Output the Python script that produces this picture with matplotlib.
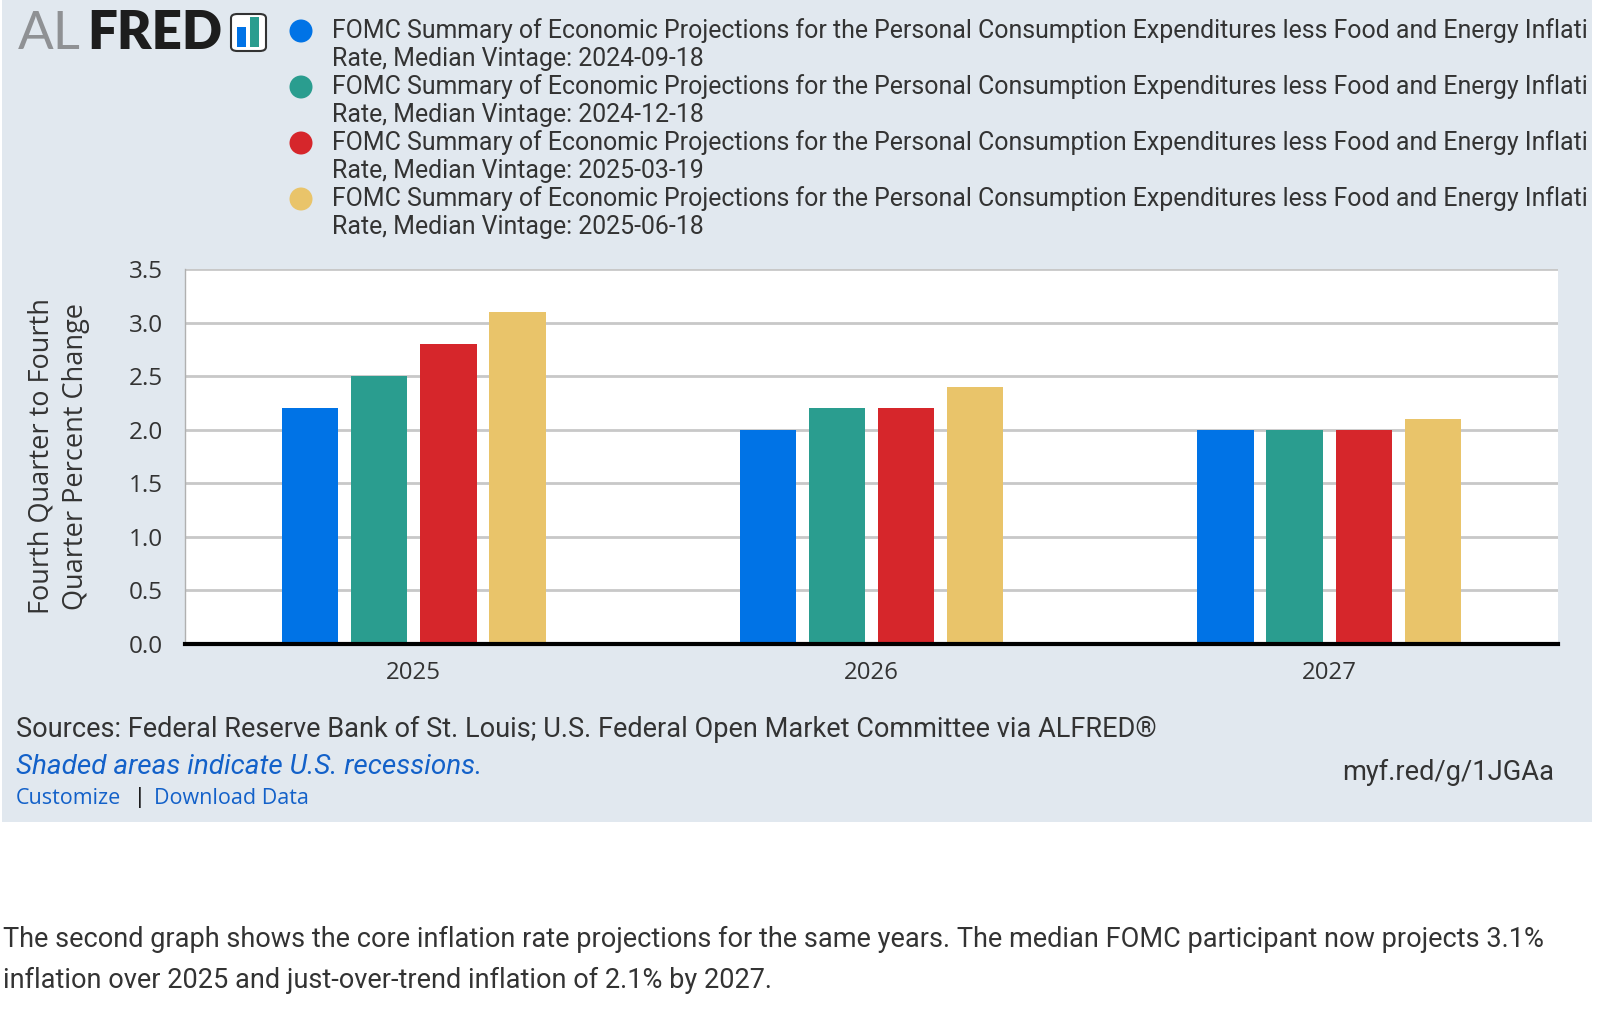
import matplotlib.pyplot as plt
from matplotlib.patches import Rectangle, FancyBboxPatch, Ellipse
import numpy as np

W, H = 1600, 1023

years = ['2025', '2026', '2027']
vintages = ['2024-09-18', '2024-12-18', '2025-03-19', '2025-06-18']
values = {
    '2024-09-18': [2.2, 2.0, 2.0],
    '2024-12-18': [2.5, 2.2, 2.0],
    '2025-03-19': [2.8, 2.2, 2.0],
    '2025-06-18': [3.1, 2.4, 2.1],
}
colors = ['#0073e6', '#2a9d8f', '#d6262b', '#e9c46a']
# the legend line is cut at the panel edge in the original graph
series_name = ('FOMC Summary of Economic Projections for the Personal Consumption '
               'Expenditures less Food and Energy Inflati')
yticks = [0.0, 0.5, 1.0, 1.5, 2.0, 2.5, 3.0, 3.5]

TXT = '#333333'
LINK = '#1361c9'


def fx(x):
    return x / W


def fy(y):
    return 1 - y / H


fig = plt.figure(figsize=(16, 10.23), dpi=100)

# grey panel behind the FRED graph
panel = Rectangle((fx(2), fy(822)), fx(1590), 822 / H, transform=fig.transFigure,
                  facecolor='#e1e8ef', edgecolor='none', zorder=-10)
fig.patches.append(panel)

# logo
fig.text(fx(18), fy(49), 'AL', fontsize=38, family='Lato', weight='normal',
         color='#8f9194', va='baseline')
fig.text(fx(87), fy(49), 'FRED', fontsize=38, family='Lato', weight='heavy',
         color='#1d1d1d', va='baseline')
icon = FancyBboxPatch((fx(231), fy(51)), fx(35), 37 / H, transform=fig.transFigure,
                      boxstyle='round,pad=0,rounding_size=0.004', facecolor='white',
                      edgecolor='#333333', linewidth=1.5)
fig.patches.append(icon)
fig.patches.append(Rectangle((fx(237), fy(47)), fx(9), 20 / H, transform=fig.transFigure,
                             facecolor='#0073e6', edgecolor='none'))
fig.patches.append(Rectangle((fx(250), fy(47)), fx(9), 30 / H, transform=fig.transFigure,
                             facecolor='#2a9d8f', edgecolor='none'))

# legend
for i, (v, c) in enumerate(zip(vintages, colors)):
    y0 = 31 + i * 56
    fig.patches.append(Ellipse((fx(301), fy(y0)), fx(23), 23 / H,
                               transform=fig.transFigure, facecolor=c, edgecolor='none'))
    fig.text(fx(332), fy(y0), series_name, fontsize=17.9, family='Roboto',
             color=TXT, va='center')
    fig.text(fx(332), fy(y0 + 28), 'Rate, Median Vintage: ' + v, fontsize=17.9,
             family='Roboto', color=TXT, va='center')

# bar chart
ax = fig.add_axes([fx(185), fy(644), fx(1558 - 185), (644 - 269) / H])
ax.set_facecolor('white')
x = np.arange(len(years))
width = 0.123
step = 0.151
for i, (v, c) in enumerate(zip(vintages, colors)):
    ax.bar(x + (i - 1.5) * step, values[v], width, color=c, zorder=3)

ax.set_xlim(-0.5, 2.5)
ax.set_ylim(0, 3.5)
ax.set_yticks(yticks)
ax.set_yticklabels(['%.1f' % t for t in yticks], family='Open Sans', fontsize=17.5,
                   color=TXT)
ax.set_xticks(x)
ax.set_xticklabels(years, family='Open Sans', fontsize=17.3, color=TXT)
ax.tick_params(length=0, pad=12)
ax.tick_params(axis='y', pad=16)
ax.grid(axis='y', color='#c8c8c8', linewidth=2, zorder=0)
for s in ['top', 'right']:
    ax.spines[s].set_visible(False)
ax.spines['left'].set_color('#b0b0b0')
ax.spines['left'].set_linewidth(1)
ax.spines['bottom'].set_color('black')
ax.spines['bottom'].set_linewidth(3)
ax.spines['bottom'].set_zorder(5)

fig.text(fx(59), fy(456), 'Fourth Quarter to Fourth\nQuarter Percent Change',
         rotation=90, ha='center', va='center', fontsize=19.5, family='Open Sans',
         color=TXT, linespacing=1.3)

# footer of the graph
fig.text(fx(16), fy(729), 'Sources: Federal Reserve Bank of St. Louis; U.S. Federal '
         'Open Market Committee via ALFRED\u00ae', fontsize=19.5, family='Roboto',
         color=TXT, va='center')
fig.text(fx(16), fy(767), 'Shaded areas indicate U.S. recessions.', fontsize=20.1,
         family='Roboto', style='italic', color=LINK, va='center')
fig.text(fx(16), fy(798), 'Customize', fontsize=15.5, family='Open Sans', color=LINK,
         va='center')
fig.text(fx(134), fy(798), '|', fontsize=15.5, family='Open Sans', color='black',
         va='center')
fig.text(fx(154), fy(798), 'Download Data', fontsize=15.5, family='Open Sans',
         color=LINK, va='center')
fig.text(fx(1554), fy(772), 'myf.red/g/1JGAa', fontsize=19.6, family='Roboto',
         color=TXT, ha='right', va='center')

# article text below
fig.text(fx(3), fy(939), 'The second graph shows the core inflation rate projections for '
         'the same years. The median FOMC participant now projects 3.1%',
         fontsize=19.5, family='Roboto', color=TXT, va='center')
fig.text(fx(3), fy(980), 'inflation over 2025 and just-over-trend inflation of 2.1% by 2027.',
         fontsize=19.5, family='Roboto', color=TXT, va='center')

fig.savefig('out.png', dpi=100, facecolor='white')
